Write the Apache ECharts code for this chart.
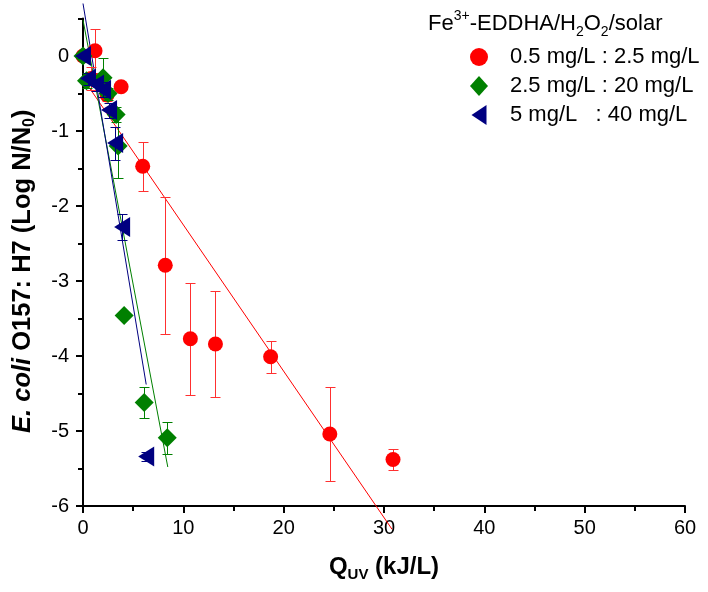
<!DOCTYPE html>
<html>
<head>
<meta charset="utf-8">
<script src="https://cdn.jsdelivr.net/npm/echarts@6/dist/echarts.min.js"></script>
<style>
  html, body { margin: 0; padding: 0; background: #fff; }
  #chart { width: 708px; height: 592px; }
</style>
</head>
<body>
<div id="chart"></div>
<script>
// Fe3+-EDDHA / H2O2 / solar inactivation of E. coli O157:H7
// Each treatment: UV dose (kJ/L), log reduction, standard deviation.
const seriesNames = ['0.5 mg/L : 2.5 mg/L', '2.5 mg/L : 20 mg/L', '5 mg/L   : 40 mg/L'];

const redQ   = [0, 0.8, 1.2, 2.4, 3.8, 5.95, 8.2, 10.7, 13.2, 18.7, 24.6, 30.9];
const redLog = [0, -0.3, 0.07, -0.52, -0.41, -1.47, -2.79, -3.77, -3.84, -4.01, -5.04, -5.38];
const redSd  = [0.05, 0.15, 0.29, 0.08, 0.04, 0.33, 0.91, 0.75, 0.71, 0.21, 0.63, 0.14];

const greenQ   = [0, 0.35, 2.0, 2.5, 3.3, 3.5, 4.1, 6.1, 8.4];
const greenLog = [0, -0.33, -0.29, -0.5, -0.78, -1.2, -3.46, -4.62, -5.09];
const greenSd  = [0.04, 0.1, 0.26, 0.08, 0.1, 0.43, 0, 0.21, 0.21];

const blueQ   = [0, 0.5, 1.3, 2.0, 2.6, 3.2, 3.9, 6.3];
const blueLog = [0, -0.3, -0.38, -0.45, -0.72, -1.16, -2.28, -5.34];
const blueSd  = [0.03, 0.08, 0.08, 0.1, 0.1, 0.22, 0.17, 0.06];

// linear fits, start and end points
const redFit   = [[0, -0.3], [30.8, -6.31]];
const greenFit = [[0, 0.48], [8.45, -5.48]];
const blueFit  = [[0, 0.70], [6.3, -4.38]];

// axis ticks
const xTicks = [0, 10, 20, 30, 40, 50, 60];
const yMajor = [-6, -5, -4, -3, -2, -1, 0];
const yMinor = [-5.5, -4.5, -3.5, -2.5, -1.5, -0.5, 0.5];

const RED = '#ff0000', GREEN = '#008000', NAVY = '#000080';
const FONT = '"Liberation Sans", Arial, Helvetica, sans-serif';

function pairs(xs, ys) { return xs.map((x, i) => [x, ys[i]]); }

function errorBars(xs, ys, sd, color, z) {
  return {
    type: 'custom',
    name: 'sd-' + color,
    z: z,
    silent: true,
    data: xs.map((x, i) => [x, ys[i] - sd[i], ys[i] + sd[i], sd[i]]).filter(d => d[3] > 0),
    encode: { x: 0, y: [1, 2] },
    renderItem(params, api) {
      const lo = api.coord([api.value(0), api.value(1)]);
      const hi = api.coord([api.value(0), api.value(2)]);
      const cx = Math.round(lo[0]) + 0.5;
      const y1 = Math.round(lo[1]) + 0.5, y2 = Math.round(hi[1]) + 0.5;
      const hw = 5;
      const st = { stroke: color, lineWidth: 1 };
      return {
        type: 'group',
        children: [
          { type: 'line', shape: { x1: cx, y1: y1, x2: cx, y2: y2 }, style: st },
          { type: 'line', shape: { x1: cx - hw, y1: y1, x2: cx + hw, y2: y1 }, style: st },
          { type: 'line', shape: { x1: cx - hw, y1: y2, x2: cx + hw, y2: y2 }, style: st }
        ]
      };
    }
  };
}

function fitLine(pts, color) {
  return {
    type: 'line', name: 'fit-' + color, data: pts, symbol: 'none', silent: true,
    clip: false, z: 1, lineStyle: { color: color, width: 1 }
  };
}

const axisBlack = { color: '#000', width: 2 };

const option = {
  animation: false,
  backgroundColor: '#fff',
  grid: { left: 83, right: 23, top: 18.5, bottom: 86, containLabel: false },
  title: {
    text: '{m|Fe}{p|3+}{m|-EDDHA/H}{s|2}{m|O}{s|2}{m|/solar}',
    left: 428, top: 9, padding: 0,
    textStyle: {
      fontWeight: 'normal',
      rich: {
        m: { fontFamily: FONT, fontSize: 22, fontWeight: 'normal', color: '#000', lineHeight: 30 },
        p: { fontFamily: FONT, fontSize: 14, fontWeight: 'normal', color: '#000', lineHeight: 14, verticalAlign: 'top' },
        s: { fontFamily: FONT, fontSize: 14, fontWeight: 'normal', color: '#000', lineHeight: 14, verticalAlign: 'bottom' }
      }
    }
  },
  legend: {
    data: [
      { name: seriesNames[0] },
      { name: seriesNames[1] },
      { name: seriesNames[2], icon: 'path://M0,10 L15,0 L15,20 Z' }
    ],
    orient: 'vertical',
    left: 470, top: 46,
    padding: 0,
    itemWidth: 18, itemHeight: 20, itemGap: 7,
    textStyle: { fontFamily: FONT, fontSize: 22, color: '#000', lineHeight: 22, padding: [0, 0, 0, 17] }
  },
  xAxis: {
    type: 'value', min: 0, max: 60, interval: 10,
    name: '{q|Q}{u|UV}{q| (kJ/L)}',
    nameLocation: 'middle', nameGap: 46,
    nameTextStyle: {
      rich: {
        q: { fontFamily: FONT, fontSize: 24, fontWeight: 'bold', color: '#000', lineHeight: 30 },
        u: { fontFamily: FONT, fontSize: 15, fontWeight: 'bold', color: '#000', lineHeight: 15, verticalAlign: 'bottom' }
      }
    },
    axisLine: { onZero: false, lineStyle: axisBlack },
    axisTick: { length: 7, lineStyle: axisBlack },
    minorTick: { show: true, splitNumber: 2, length: 5, lineStyle: axisBlack },
    splitLine: { show: false },
    axisLabel: { fontFamily: FONT, fontSize: 20, color: '#000', margin: 12, customValues: xTicks }
  },
  yAxis: [
    {
      type: 'value', min: -6, max: 0.5, position: 'left',
      name: '{i|E. coli }{b|O157: H7 (Log N/N}{s|0}{b|)}',
      nameLocation: 'middle', nameGap: 45,
      nameTextStyle: {
        padding: [0, 18, 0, 0],
        rich: {
          i: { fontFamily: FONT, fontSize: 25.5, fontWeight: 'bold', fontStyle: 'italic', color: '#000', lineHeight: 30 },
          b: { fontFamily: FONT, fontSize: 25.5, fontWeight: 'bold', color: '#000', lineHeight: 30 },
          s: { fontFamily: FONT, fontSize: 16, fontWeight: 'bold', color: '#000', lineHeight: 15, verticalAlign: 'bottom' }
        }
      },
      axisLine: { show: true, onZero: false, lineStyle: axisBlack },
      axisTick: { show: true, length: 7, lineStyle: axisBlack, customValues: yMajor },
      splitLine: { show: false },
      axisLabel: { fontFamily: FONT, fontSize: 20, color: '#000', margin: 14, customValues: yMajor }
    },
    {
      type: 'value', min: -6, max: 0.5, position: 'left', offset: 0,
      axisLine: { show: false, onZero: false },
      axisTick: { show: true, length: 5, lineStyle: axisBlack, customValues: yMinor },
      splitLine: { show: false },
      axisLabel: { show: false }
    }
  ],
  series: [
    fitLine(redFit, RED),
    fitLine(greenFit, GREEN),
    fitLine(blueFit, NAVY),
    errorBars(redQ, redLog, redSd, '#ff3030', 2),
    {
      type: 'scatter', name: seriesNames[0], data: pairs(redQ, redLog), z: 3,
      symbol: 'circle', symbolSize: 15, itemStyle: { color: RED, opacity: 1 }
    },
    errorBars(greenQ, greenLog, greenSd, GREEN, 4),
    {
      type: 'scatter', name: seriesNames[1], data: pairs(greenQ, greenLog), z: 5,
      symbol: 'diamond', symbolSize: 19, itemStyle: { color: GREEN, opacity: 1 }
    },
    errorBars(blueQ, blueLog, blueSd, NAVY, 6),
    {
      type: 'scatter', name: seriesNames[2], data: pairs(blueQ, blueLog), z: 7,
      symbol: 'triangle', symbolSize: [20, 16], symbolRotate: 90, itemStyle: { color: NAVY, opacity: 1 }
    }
  ]
};

const chart = echarts.init(document.getElementById('chart'), null, { renderer: 'canvas' });
chart.setOption(option);
</script>
</body>
</html>
